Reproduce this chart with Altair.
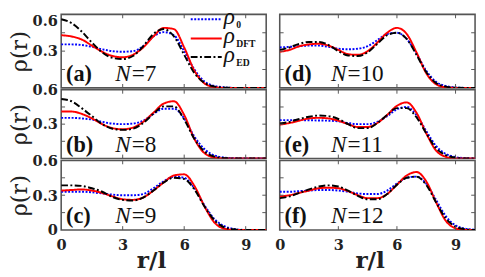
import altair as alt
import pandas as pd

# ---------------- data ----------------
R = [0.0, 0.5, 1.0, 1.5, 2.0, 2.5, 3.0, 3.5, 4.0, 4.5, 5.0,
     5.5, 6.0, 6.5, 7.0, 7.5, 8.0, 8.5, 9.0, 9.5, 10.0]

# (a) N=7
A_R0 = [0.355, 0.355, 0.35, 0.335, 0.315, 0.30, 0.295, 0.30, 0.34, 0.42, 0.455, 0.43, 0.30, 0.15, 0.05, 0.015, 0.004, 0, 0, 0, 0]
A_DFT = [0.43, 0.42, 0.395, 0.345, 0.295, 0.26, 0.25, 0.27, 0.33, 0.42, 0.49, 0.48, 0.33, 0.14, 0.035, 0.006, 0, 0, 0, 0, 0]
A_ED = [0.56, 0.53, 0.46, 0.37, 0.29, 0.245, 0.235, 0.26, 0.34, 0.44, 0.48, 0.42, 0.27, 0.12, 0.04, 0.01, 0.002, 0, 0, 0, 0]
# (b) N=8
B_R0 = [0.355, 0.355, 0.35, 0.34, 0.32, 0.305, 0.30, 0.305, 0.33, 0.39, 0.435, 0.435, 0.35, 0.19, 0.08, 0.025, 0.007, 0.002, 0, 0, 0]
B_DFT = [0.41, 0.41, 0.39, 0.35, 0.30, 0.265, 0.255, 0.27, 0.32, 0.40, 0.48, 0.50, 0.38, 0.17, 0.045, 0.008, 0, 0, 0, 0, 0]
B_ED = [0.52, 0.50, 0.44, 0.37, 0.30, 0.26, 0.25, 0.26, 0.31, 0.39, 0.455, 0.455, 0.34, 0.17, 0.06, 0.015, 0.003, 0, 0, 0, 0]
# (c) N=9
C_R0 = [0.33, 0.33, 0.33, 0.325, 0.315, 0.305, 0.30, 0.30, 0.31, 0.36, 0.42, 0.46, 0.45, 0.36, 0.21, 0.09, 0.03, 0.008, 0, 0, 0]
C_DFT = [0.34, 0.345, 0.35, 0.34, 0.32, 0.29, 0.265, 0.26, 0.28, 0.34, 0.41, 0.47, 0.48, 0.38, 0.20, 0.06, 0.01, 0, 0, 0, 0]
C_ED = [0.385, 0.385, 0.38, 0.36, 0.33, 0.285, 0.26, 0.255, 0.28, 0.34, 0.41, 0.45, 0.44, 0.35, 0.20, 0.08, 0.02, 0.005, 0, 0, 0]
# (d) N=10
D_R0 = [0.33, 0.335, 0.34, 0.345, 0.345, 0.335, 0.32, 0.315, 0.32, 0.34, 0.39, 0.44, 0.45, 0.40, 0.28, 0.14, 0.05, 0.015, 0.004, 0, 0]
D_DFT = [0.295, 0.31, 0.34, 0.355, 0.36, 0.345, 0.31, 0.275, 0.27, 0.30, 0.37, 0.45, 0.49, 0.44, 0.29, 0.12, 0.03, 0.005, 0, 0, 0]
D_ED = [0.31, 0.33, 0.36, 0.375, 0.375, 0.35, 0.30, 0.265, 0.26, 0.29, 0.36, 0.43, 0.45, 0.40, 0.27, 0.13, 0.04, 0.01, 0.002, 0, 0]
# (e) N=11
E_R0 = [0.335, 0.335, 0.335, 0.334, 0.332, 0.33, 0.325, 0.31, 0.30, 0.30, 0.32, 0.37, 0.43, 0.45, 0.38, 0.24, 0.11, 0.04, 0.012, 0.003, 0]
E_DFT = [0.295, 0.31, 0.33, 0.35, 0.355, 0.35, 0.33, 0.30, 0.275, 0.275, 0.31, 0.38, 0.46, 0.49, 0.40, 0.22, 0.07, 0.015, 0, 0, 0]
E_ED = [0.305, 0.32, 0.345, 0.365, 0.375, 0.37, 0.345, 0.30, 0.265, 0.265, 0.31, 0.38, 0.44, 0.44, 0.36, 0.22, 0.09, 0.03, 0.007, 0, 0]
# (f) N=12
F_R0 = [0.33, 0.33, 0.335, 0.34, 0.345, 0.345, 0.34, 0.33, 0.315, 0.31, 0.31, 0.34, 0.40, 0.45, 0.46, 0.40, 0.26, 0.12, 0.04, 0.012, 0.003]
F_DFT = [0.29, 0.30, 0.32, 0.34, 0.36, 0.365, 0.36, 0.335, 0.30, 0.275, 0.275, 0.31, 0.39, 0.47, 0.50, 0.42, 0.24, 0.08, 0.015, 0, 0]
F_ED = [0.275, 0.29, 0.32, 0.35, 0.375, 0.385, 0.375, 0.34, 0.295, 0.265, 0.265, 0.31, 0.39, 0.45, 0.46, 0.39, 0.24, 0.10, 0.03, 0.007, 0]

PANEL_TAGS = ["(a)", "(b)", "(c)", "(d)", "(e)", "(f)"]
PANEL_N = ["7", "8", "9", "10", "11", "12"]
X_LABELS = [0, 3, 6, 9]
X_TICKS = [3, 6, 9]
Y_TICKS = [0.15, 0.3, 0.45]
LEGEND_SUBS = ["0", "DFT", "ED"]

SERIES = [("r0", "#0000ff", [2, 1.6]), ("dft", "#ff0000", [1, 0]), ("ed", "#000000", [7, 2.5, 2, 2.5])]

FRAME = "#555555"
NUMFONT = "DejaVu Serif"
TXTFONT = "Liberation Serif"


def make_panel(idx, r0, dft, ed, w, h, show_x, y_vals, show_y, legend=False):
    xscale = alt.Scale(domain=[0, 10], nice=False, zero=False)
    yscale = alt.Scale(domain=[0, 0.6], nice=False, zero=False)
    if show_x:
        xaxis = alt.Axis(values=X_LABELS, labelFont=NUMFONT, labelFontWeight="bold", labelFontSize=15,
                         labelColor="#222222", labelPadding=8, labelFlush=False, labelOverlap=False,
                         domain=False, ticks=False, grid=False, title="r/l", titleFont=NUMFONT,
                         titleFontWeight="bold", titleFontSize=24, titleColor="#222222",
                         titlePadding=-3, titleX=93)
    else:
        xaxis = None
    if show_y:
        yaxis = alt.Axis(values=y_vals, labelExpr="datum.value == 0 ? '0' : format(datum.value, '.1f')",
                         labelFont=NUMFONT, labelFontWeight="bold", labelFontSize=15,
                         labelColor="#222222", labelPadding=4, labelFlush=False, labelOverlap=False,
                         labelBaseline=alt.condition("datum.value >= 0.6 && %s" % ("true" if idx == 0 else "false"),
                                                     alt.value("top"), alt.value("middle")),
                         domain=False, ticks=False, grid=False, title="ρ(r)", titleFont=NUMFONT,
                         titleFontWeight="normal", titleFontSize=23, titleColor="#222222", titlePadding=1)
    else:
        yaxis = None
    X = alt.X("r:Q", scale=xscale, axis=xaxis)
    Y = alt.Y("rho:Q", scale=yscale, axis=yaxis)

    layers = []
    for (name, color, dash), vals in zip(SERIES, [r0, dft, ed]):
        df = pd.DataFrame({"r": R, "rho": vals})
        layers.append(alt.Chart(df).mark_line(color=color, strokeWidth=2, strokeDash=dash,
                                              interpolate="monotone", clip=True).encode(x=X, y=Y))

    xt = pd.DataFrame({"r": X_TICKS})
    yt = pd.DataFrame({"rho": Y_TICKS})
    tick = dict(color=FRAME, strokeWidth=1)
    layers.append(alt.Chart(xt).mark_rule(**tick).encode(x=X, y=alt.value(h), y2=alt.value(h - 4)))
    layers.append(alt.Chart(xt).mark_rule(**tick).encode(x=X, y=alt.value(0), y2=alt.value(4)))
    layers.append(alt.Chart(yt).mark_rule(**tick).encode(y=Y, x=alt.value(0), x2=alt.value(4)))
    layers.append(alt.Chart(yt).mark_rule(**tick).encode(y=Y, x=alt.value(w - 4), x2=alt.value(w)))

    lab = pd.DataFrame({"tag": [PANEL_TAGS[idx]], "n": [PANEL_N[idx]]})
    nx = 56 if idx < 3 else 53
    layers.append(alt.Chart(lab).mark_text(font=TXTFONT, fontSize=23, fontWeight="bold", align="left",
                                           baseline="alphabetic", color="#111111")
                  .encode(text="tag:N", x=alt.value(5), y=alt.value(h - 7)))
    layers.append(alt.Chart(lab).mark_text(font=TXTFONT, fontSize=24, fontStyle="italic", align="left",
                                           baseline="alphabetic", color="#111111", text="N")
                  .encode(x=alt.value(nx), y=alt.value(h - 7)))
    layers.append(alt.Chart(lab).mark_text(font=TXTFONT, fontSize=24, align="left",
                                           baseline="alphabetic", color="#111111")
                  .encode(text=alt.Text("label:N"), x=alt.value(nx + 17), y=alt.value(h - 7))
                  .transform_calculate(label="'=' + datum.n"))

    if legend:
        rows = [5, 25, 44]
        for (name, color, dash), sub, yy in zip(SERIES, LEGEND_SUBS, rows):
            ldf = pd.DataFrame({"sub": [sub]})
            layers.append(alt.Chart(ldf).mark_rule(color=color, strokeWidth=2, strokeDash=dash)
                          .encode(x=alt.value(134), x2=alt.value(166), y=alt.value(yy)))
            layers.append(alt.Chart(ldf).mark_text(font=TXTFONT, fontSize=24, fontStyle="italic",
                                                   align="left", baseline="alphabetic", color="#111111",
                                                   text="ρ")
                          .encode(x=alt.value(168), y=alt.value(yy + 5)))
            layers.append(alt.Chart(ldf).mark_text(font=TXTFONT, fontSize=10, fontWeight="bold",
                                                   align="left", baseline="alphabetic", color="#111111")
                          .encode(text="sub:N", x=alt.value(181), y=alt.value(yy + 9)))

    return alt.layer(*layers).properties(width=w, height=h)


HEIGHTS = [76, 71, 72]
LW, RW = 212, 202

pa = make_panel(0, A_R0, A_DFT, A_ED, LW, HEIGHTS[0], False, [0.3, 0.6], True, legend=True)
pb = make_panel(1, B_R0, B_DFT, B_ED, LW, HEIGHTS[1], False, [0.3, 0.6], True)
pc = make_panel(2, C_R0, C_DFT, C_ED, LW, HEIGHTS[2], True, [0, 0.3, 0.6], True)
pd_ = make_panel(3, D_R0, D_DFT, D_ED, RW, HEIGHTS[0], False, None, False)
pe = make_panel(4, E_R0, E_DFT, E_ED, RW, HEIGHTS[1], False, None, False)
pf = make_panel(5, F_R0, F_DFT, F_ED, RW, HEIGHTS[2], True, None, False)

chart = alt.hconcat(
    alt.vconcat(pa, pb, pc, spacing=2, bounds="flush"),
    alt.vconcat(pd_, pe, pf, spacing=2, bounds="flush"),
    spacing=5,
).properties(
    padding={"left": 0, "top": -8, "right": 0, "bottom": 0},
    background="white",
).configure_view(
    stroke=FRAME, strokeWidth=1.6
)

chart.save("out.html", embed_options={"renderer": "svg", "actions": False})
